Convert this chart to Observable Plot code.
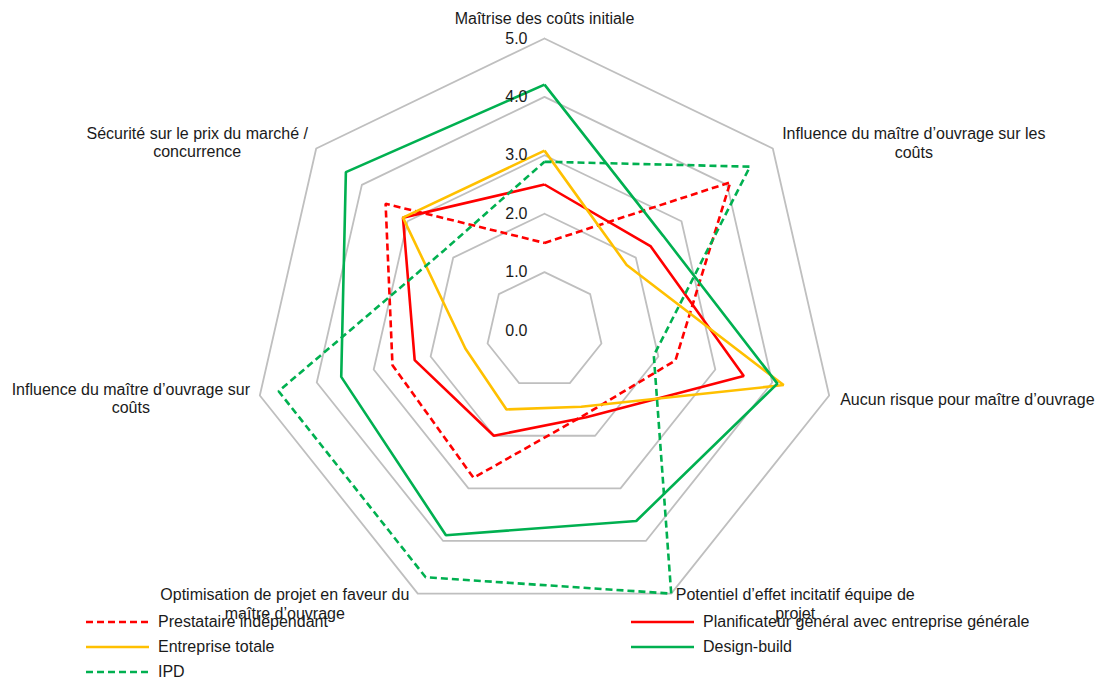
<!DOCTYPE html>
<html>
<head>
<meta charset="utf-8">
<script src="https://cdn.jsdelivr.net/npm/d3@7"></script>
<script src="https://cdn.jsdelivr.net/npm/@observablehq/plot@0.6"></script>
<style>
  html, body { margin: 0; padding: 0; background: #fff; }
  #wrap { position: relative; width: 1104px; height: 682px; font-family: "Liberation Sans", Arial, sans-serif; }
  .leg { position: absolute; display: flex; align-items: center; font-size: 16px; color: #1a1a1a; white-space: nowrap; }
  .leg svg { margin-right: 9px; }
</style>
</head>
<body>
<div id="wrap"></div>
<script>
// ---- data ----
const axes = [
  "Maîtrise des coûts initiale",
  "Influence du maître d’ouvrage sur les\ncoûts",
  "Aucun risque pour maître d’ouvrage",
  "Potentiel d’effet incitatif équipe de\nprojet",
  "Optimisation de projet en faveur du\nmaître d’ouvrage",
  "Influence du maître d’ouvrage sur\ncoûts",
  "Sécurité sur le prix du marché /\nconcurrence"
];
const ticks = [0, 1, 2, 3, 4, 5];
const seriesNames = ["Prestataire indépendant", "Planificateur général avec entreprise générale", "Entreprise totale", "Design-build", "IPD"];
const prestataire   = [1.5, 4.07, 2.3, 1.6, 2.8, 2.67, 3.48];
const planificateur = [2.5, 2.32, 3.5, 1.65, 2.0, 2.28, 3.1];
const entreprise    = [3.08, 1.8, 4.2, 1.45, 1.5, 1.39, 3.1];
const designBuild   = [4.21, 2.6, 4.09, 3.62, 3.89, 3.57, 4.35];
const ipd           = [2.89, 4.5, 1.92, 5.0, 4.69, 4.67, 2.2];
const seriesValues = [prestataire, planificateur, entreprise, designBuild, ipd];

// ---- styles ----
const seriesColors = ["#FF0000", "#FF0000", "#FFC000", "#00B050", "#00B050"];
const seriesDash = ["7,4", null, null, null, "7,4"];
const labelOffsets = [[0, -21], [141, -6], [11, 3], [124, 10], [-133, 10], [-129, 2.5], [-119, -6.5]];
const labelAnchors = ["middle", "middle", "start", "middle", "middle", "middle", "middle"];

const W = 1104, H = 682, unit = 58.4, cxPx = 544, cyPx = 330;
const n = axes.length;
const ang = i => -Math.PI / 2 + i * 2 * Math.PI / n;
const px = (r, i) => r * Math.cos(ang(i));
const py = (r, i) => -r * Math.sin(ang(i));

// rings
const rings = [];
for (const t of ticks.filter(t => t > 0)) {
  for (let i = 0; i <= n; i++) rings.push({ring: t, x: px(t, i % n), y: py(t, i % n)});
}

const marks = [
  Plot.line(rings, {x: "x", y: "y", z: "ring", stroke: "#BFBFBF", strokeWidth: 1.8})
];

seriesValues.forEach((vals, s) => {
  const pts = [];
  for (let i = 0; i <= n; i++) pts.push({x: px(vals[i % n], i % n), y: py(vals[i % n], i % n)});
  marks.push(Plot.line(pts, {x: "x", y: "y", stroke: seriesColors[s], strokeWidth: 2.6,
    strokeDasharray: seriesDash[s] || undefined, strokeLinejoin: "miter", strokeLinecap: "butt"}));
});

// tick labels
marks.push(Plot.text(ticks, {x: 0, y: d => d, text: d => d.toFixed(1), textAnchor: "end", dx: -17,
  fill: "#1a1a1a", fontSize: 16}));

// axis labels
axes.forEach((lab, i) => {
  marks.push(Plot.text([lab], {x: px(5, i), y: py(5, i), text: d => d, textAnchor: labelAnchors[i],
    dx: labelOffsets[i][0], dy: labelOffsets[i][1], lineHeight: 1.18, fill: "#1a1a1a", fontSize: 16}));
});

const chart = Plot.plot({
  width: W, height: H,
  marginTop: 0, marginRight: 0, marginBottom: 0, marginLeft: 0,
  style: {fontFamily: "'Liberation Sans', Arial, sans-serif", background: "#fff"},
  x: {domain: [-cxPx / unit, (W - cxPx) / unit], axis: null},
  y: {domain: [-(H - cyPx) / unit, cyPx / unit], axis: null},
  marks
});
const wrap = document.getElementById("wrap");
wrap.appendChild(chart);

// legend
const legPos = [[86, 622], [631, 622], [86, 647], [631, 647], [86, 672]];
seriesNames.forEach((name, s) => {
  const d = document.createElement("div");
  d.className = "leg";
  d.style.left = legPos[s][0] + "px";
  d.style.top = (legPos[s][1] - 10) + "px";
  d.style.height = "20px";
  const dash = seriesDash[s] ? `stroke-dasharray="${seriesDash[s]}"` : "";
  d.innerHTML = `<svg width="63" height="6"><line x1="0" y1="3" x2="63" y2="3" stroke="${seriesColors[s]}" stroke-width="2.6" ${dash}/></svg><span>${name}</span>`;
  wrap.appendChild(d);
});
</script>
</body>
</html>
